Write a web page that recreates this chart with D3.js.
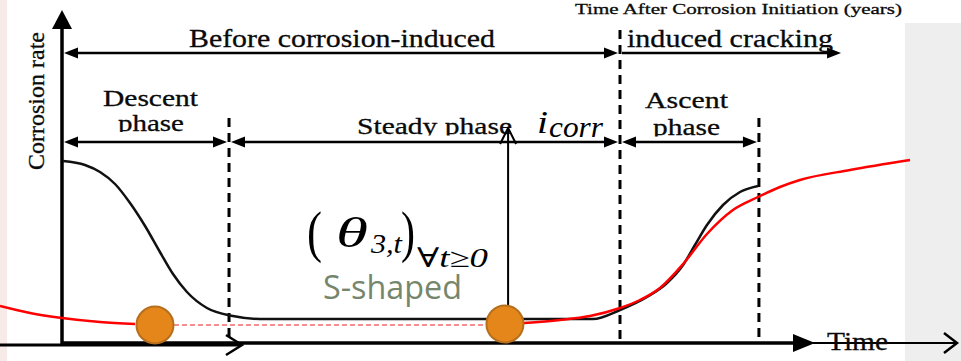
<!DOCTYPE html>
<html>
<head>
<meta charset="utf-8">
<script src="https://cdn.jsdelivr.net/npm/d3@7"></script>
<style>
  html, body { margin: 0; padding: 0; background: #ffffff; }
  svg { display: block; }
</style>
</head>
<body>
<div id="paper"></div>
<script>
// time (arbitrary units) against corrosion rate
const rateCurve = [[0.07,9.1],[1.53,8.9],[2.53,8.55],[3.53,7.95],[4.53,7.0],[5.53,5.85],[6.52,4.55],
  [7.39,3.45],[8.32,2.55],[9.65,1.75],[11.38,1.35],[13.18,1.2],[22.5,1.2],[35.35,1.2],[37.15,1.65],
  [38.95,2.3],[40.28,3.0],[41.35,3.9],[42.14,4.9],[42.94,5.9],[44.01,6.9],[45.14,7.55],[46.34,7.85]];
const fitLeft = [[-4.13,1.85],[-2.13,1.5],[0,1.25],[2.53,1.05],[4.86,0.95]];
const fitRight = [[30.76,1.0],[33.16,1.15],[35.15,1.35],[37.15,1.75],[38.48,2.15],[39.81,2.75],
  [41.35,3.95],[42.94,5.45],[44.67,6.65],[46.34,7.3],[47.8,7.8],[49.13,8.15],[52.46,8.65],[56.46,9.15]];
const markers = [[6.19,0.9],[29.49,0.95]];
const phaseEdges = [11.12, 37.15, 46.4];
const stageEnd = 52.0;
const axisEnd = 50;
const icorrRate = 10.75;

const stageNames = ["Before corrosion-induced", "induced cracking"];
const phaseNames = ["Descent", "phase", "Steady phase", "Ascent", "phase"];
const yTitle = "Corrosion rate";
const xTitle = "Time";
const topTitle = "Time After Corrosion Initiation (years)";

const W = 961, H = 361;
const serif = "'Liberation Serif', 'Times New Roman', serif";

const x = d3.scaleLinear().domain([0, axisEnd]).range([62, 813]);
const y = d3.scaleLinear().domain([0, 10]).range([343, 143]);

const svg = d3.select("#paper")
  .append("svg")
  .attr("id", "canvas")
  .attr("width", W)
  .attr("height", H)
  .style("background-color", "#ffffff");

// background bits of the slide
svg.append("rect").attr("x", 0).attr("y", 0).attr("width", 7).attr("height", H).attr("fill", "#f6ebe6");
svg.append("rect").attr("x", 905).attr("y", 23).attr("width", W - 905).attr("height", H - 23).attr("fill", "#eeeeee");

function head(tx, ty, dir, len, half) {
  // filled triangle, dir = +1 points right, -1 left, 'up'
  if (dir === "up") return `M${tx},${ty}L${tx - half},${ty + len}L${tx + half},${ty + len}Z`;
  return `M${tx},${ty}L${tx - dir * len},${ty - half}L${tx - dir * len},${ty + half}Z`;
}

// dashed phase boundaries
const dashTop = [118, 30, 118];
svg.selectAll(".phase_edge")
  .data(phaseEdges)
  .join("line")
  .attr("class", "phase_edge")
  .attr("x1", d => x(d)).attr("x2", d => x(d))
  .attr("y1", (d, i) => dashTop[i]).attr("y2", y(0))
  .attr("stroke", "#000").attr("stroke-width", 3)
  .attr("stroke-dasharray", "9,6");

// y axis
svg.append("line")
  .attr("x1", x(0)).attr("x2", x(0)).attr("y1", 24).attr("y2", 345)
  .attr("stroke", "#000").attr("stroke-width", 3.5);
svg.append("path").attr("d", head(x(0), 10, "up", 19, 10)).attr("fill", "#000");

// x axis
svg.append("line")
  .attr("x1", x(0)).attr("x2", x(axisEnd) - 14).attr("y1", y(0)).attr("y2", y(0))
  .attr("stroke", "#000").attr("stroke-width", 3.5);
svg.append("path").attr("d", head(x(axisEnd) + 2, y(0), 1, 22, 9)).attr("fill", "#000");
svg.append("line")
  .attr("x1", x(axisEnd)).attr("x2", 957).attr("y1", y(0)).attr("y2", y(0))
  .attr("stroke", "#000").attr("stroke-width", 2);
svg.append("path").attr("d", `M944,${y(0) - 10}L957,${y(0)}L944,${y(0) + 10}`)
  .attr("fill", "none").attr("stroke", "#000").attr("stroke-width", 2.5);
svg.append("line")
  .attr("x1", 0).attr("x2", 241).attr("y1", 345).attr("y2", 345)
  .attr("stroke", "#000").attr("stroke-width", 3);
svg.append("path").attr("d", "M226,335L242,345L226,355")
  .attr("fill", "none").attr("stroke", "#000").attr("stroke-width", 2.5);

// stage arrows (row 1) and phase arrows (row 2)
const arrows = [
  {a: 0, b: phaseEdges[1], yy: 53, left: true},
  {a: phaseEdges[1], b: stageEnd, yy: 53, left: false},
  {a: 0, b: phaseEdges[0], yy: 142, left: true},
  {a: phaseEdges[0], b: phaseEdges[1], yy: 142, left: true},
  {a: phaseEdges[1], b: phaseEdges[2], yy: 142, left: true}
];
arrows.forEach(d => {
  const xa = x(d.a) + 2, xb = x(d.b) - 2;
  svg.append("line")
    .attr("x1", d.left ? xa + 8 : xa).attr("x2", xb - 8).attr("y1", d.yy).attr("y2", d.yy)
    .attr("stroke", "#000").attr("stroke-width", 2.5);
  svg.append("path").attr("d", head(xb, d.yy, 1, 14, 5.5)).attr("fill", "#000");
  if (d.left) svg.append("path").attr("d", head(xa, d.yy, -1, 14, 5.5)).attr("fill", "#000");
});

// rate curve
const curve = d3.line().x(d => x(d[0])).y(d => y(d[1])).curve(d3.curveMonotoneX);
svg.append("path")
  .attr("d", curve(rateCurve))
  .attr("fill", "none").attr("stroke", "#111").attr("stroke-width", 2.5);

// text labels
const defs = svg.append("defs");
function label(txt, x0, base, size, width, clipBottom) {
  const t = svg.append("text")
    .attr("x", x0).attr("y", base)
    .attr("font-family", serif).attr("font-size", size)
    .attr("fill", "#0a0a0a").attr("stroke", "#0a0a0a").attr("stroke-width", 0.3)
    .attr("textLength", width).attr("lengthAdjust", "spacingAndGlyphs")
    .text(txt);
  if (clipBottom) {
    const id = "clip" + Math.round(x0);
    defs.append("clipPath").attr("id", id)
      .append("rect").attr("x", 0).attr("y", 0).attr("width", W).attr("height", clipBottom);
    t.attr("clip-path", `url(#${id})`);
  }
  return t;
}
label(stageNames[0], 189, 47, 25, 306);
label(stageNames[1], 627, 47, 25, 206);
label(phaseNames[0], 103, 106, 24, 95);
label(phaseNames[1], 118, 131, 24, 66, 132);
label(phaseNames[2], 357, 134, 24, 155, 135.5);
label(phaseNames[3], 645, 108, 24, 83);
label(phaseNames[4], 653, 135, 24, 67, 136.5);
label(topTitle, 575, 14, 15, 327);
label(xTitle, 827, 350, 25, 61);

svg.append("text")
  .attr("transform", "translate(44,101) rotate(-90)")
  .attr("text-anchor", "middle")
  .attr("font-family", serif).attr("font-size", 24)
  .attr("fill", "#0a0a0a").attr("stroke", "#0a0a0a").attr("stroke-width", 0.3)
  .attr("textLength", 138).attr("lengthAdjust", "spacingAndGlyphs")
  .text(yTitle);

// fitted S-shaped curve
svg.append("path")
  .attr("d", curve(fitLeft))
  .attr("fill", "none").attr("stroke", "#ff0000").attr("stroke-width", 2.5);
svg.append("path")
  .attr("d", curve(fitRight))
  .attr("fill", "none").attr("stroke", "#ff0000").attr("stroke-width", 2.5);
svg.append("line")
  .attr("x1", x(markers[0][0]) + 19).attr("x2", x(markers[1][0]) - 19)
  .attr("y1", y(markers[0][1])).attr("y2", y(markers[0][1]))
  .attr("stroke", "#f26b6b").attr("stroke-width", 1.3).attr("stroke-dasharray", "5,3");

// i_corr arrow
const ix = x(29.7);
svg.append("line")
  .attr("x1", ix).attr("x2", ix).attr("y1", y(markers[1][1]) - 15).attr("y2", y(icorrRate) + 1)
  .attr("stroke", "#000").attr("stroke-width", 2);
svg.append("path")
  .attr("d", `M${ix - 8},${y(icorrRate) + 16}L${ix},${y(icorrRate)}L${ix + 8},${y(icorrRate) + 16}`)
  .attr("fill", "none").attr("stroke", "#000").attr("stroke-width", 2);

svg.selectAll(".marker")
  .data(markers)
  .join("circle")
  .attr("class", "marker")
  .attr("cx", d => x(d[0])).attr("cy", d => y(d[1]))
  .attr("r", 18.5)
  .attr("fill", "#e5861a").attr("stroke", "#b56f1c").attr("stroke-width", 2);

// math annotations
const math = "'Liberation Serif', 'DejaVu Serif', serif";
function mtext(txt, x0, base, size, italic, width) {
  const t = svg.append("text")
    .attr("x", x0).attr("y", base)
    .attr("font-family", math).attr("font-size", size)
    .attr("font-style", italic ? "italic" : "normal")
    .attr("fill", "#000")
    .text(txt);
  if (width) t.attr("textLength", width).attr("lengthAdjust", "spacingAndGlyphs");
  return t;
}
mtext("i", 537, 133, 32, true, 11);
mtext("corr", 549, 137, 30, true, 54);
mtext("(", 307, 251, 56, false, 15);
mtext("θ", 336, 247, 42, true, 32);
mtext("3,t", 371, 253, 28, true, 31);
mtext(")", 401, 251, 56, false, 14);
mtext("∀t≥0", 417, 267, 27, true, 71);

svg.append("text")
  .attr("x", 323).attr("y", 299)
  .attr("font-family", "'Open Sans', 'Noto Sans', sans-serif").attr("font-size", 32)
  .attr("fill", "#76866d")
  .attr("textLength", 139).attr("lengthAdjust", "spacingAndGlyphs")
  .text("S-shaped");
</script>
</body>
</html>
